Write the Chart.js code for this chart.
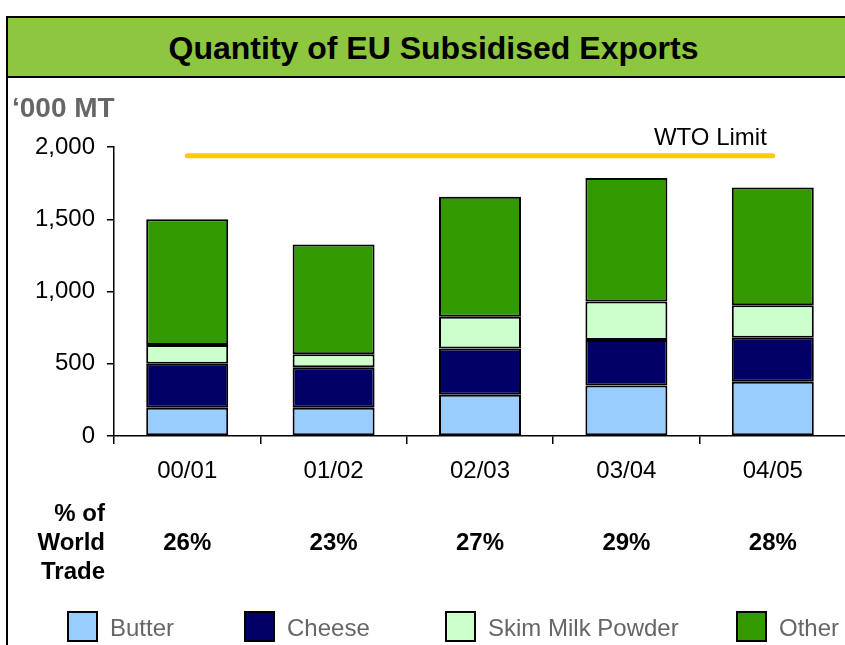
<!DOCTYPE html>
<html>
<head>
<meta charset="utf-8">
<script src="https://cdn.jsdelivr.net/npm/chart.js@4.4.1/dist/chart.umd.min.js"></script>
<style>
  body { margin: 0; width: 845px; height: 645px; overflow: hidden; position: relative; background: #fff;
         font-family: "Liberation Sans", Arial, sans-serif; }
  #chart { position: absolute; left: 0; top: 0; }
  .band { position: absolute; left: 6px; top: 16px; width: 839px; height: 62px; box-sizing: border-box;
          background: #8DC63F; border-top: 2px solid #000; border-bottom: 2px solid #000; border-left: 2px solid #000;
          display: flex; align-items: center; justify-content: center; padding-left: 14px; padding-top: 2px;
          font-weight: bold; font-size: 32px; color: #000; }
  .leftline { position: absolute; left: 6px; top: 78px; width: 2px; height: 567px; background: #000; }
  .unit { position: absolute; left: 12px; top: 94px; font-size: 28px; line-height: 28px; font-weight: bold; color: #666; }
  .share { position: absolute; right: 740px; top: 498px; font-size: 24px; line-height: 29px; font-weight: bold;
           color: #000; text-align: right; }
  .legend-item { position: absolute; top: 610px; height: 32px; display: flex; align-items: center; }
  .legend-item span.box { width: 31px; height: 31px; box-sizing: border-box; border: 2px solid #000; margin-right: 12px; }
  .legend-item span.txt { font-size: 24px; color: #666; padding-top: 3px; }
</style>
</head>
<body>
<canvas id="chart" width="850" height="645"></canvas>
<div class="band">Quantity of EU Subsidised Exports</div>
<div class="leftline"></div>
<div class="unit">‘000 MT</div>
<div class="share">% of<br>World<br>Trade</div>
<div id="legend"></div>
<script>
// years and stacked values ('000 MT)
var periods = ["00/01", "01/02", "02/03", "03/04", "04/05"];
var butter = [195, 195, 285, 350, 375];
var cheese = [305, 280, 320, 315, 305];
var skimMilk = [130, 90, 220, 265, 225];
var other = [870, 760, 830, 855, 815];
var wtoLimit = [1940, 1940, 1940, 1940, 1940];
var worldShare = ["26%", "23%", "27%", "29%", "28%"];
var yTicks = [0, 500, 1000, 1500, 2000];

var seriesNames = ["Butter", "Cheese", "Skim Milk Powder", "Other"];
var seriesColors = ["#99CCFF", "#000066", "#CCFFCC", "#339900"];
var legendLeft = [67, 244, 445, 736];

var FONT = "'Liberation Sans', Arial, sans-serif";

function barSet(label, values, color) {
    return {
        label: label,
        data: values,
        backgroundColor: color,
        borderColor: "#000",
        borderWidth: 2,
        borderSkipped: false,
        barPercentage: 0.56,
        categoryPercentage: 1.0,
        stack: "exports"
    };
}

// draws the WTO label and the % of world trade row
var extraText = {
    id: "extraText",
    afterDraw: function (chart) {
        var ctx = chart.ctx;
        var xs = chart.scales.x, ys = chart.scales.y;
        ctx.save();
        ctx.fillStyle = "#000";
        ctx.font = "24px " + FONT;
        ctx.textAlign = "right";
        ctx.textBaseline = "middle";
        ctx.fillText("WTO Limit", xs.getPixelForValue(periods.length - 1) - 6, ys.getPixelForValue(wtoLimit[wtoLimit.length - 1]) - 17);

        ctx.font = "bold 24px " + FONT;
        ctx.textAlign = "center";
        for (var i = 0; i < worldShare.length; i++) {
            ctx.fillText(worldShare[i], xs.getPixelForValue(i), 543);
        }
        ctx.restore();
    }
};

var chart = new Chart(document.getElementById("chart"), {
    type: "bar",
    data: {
        labels: periods,
        datasets: [
            barSet(seriesNames[0], butter, seriesColors[0]),
            barSet(seriesNames[1], cheese, seriesColors[1]),
            barSet(seriesNames[2], skimMilk, seriesColors[2]),
            barSet(seriesNames[3], other, seriesColors[3]),
            {
                type: "line",
                label: "WTO Limit",
                data: wtoLimit,
                borderColor: "#FFCC00",
                borderWidth: 5,
                borderCapStyle: "round",
                pointRadius: 0,
                fill: false,
                stack: "wto"
            }
        ]
    },
    options: {
        responsive: false,
        animation: false,
        locale: "en-US",
        layout: { padding: { top: 147, left: 0, right: 4, bottom: 0 } },
        plugins: { legend: { display: false }, tooltip: { enabled: false } },
        scales: {
            x: {
                stacked: true,
                grid: { display: true, drawOnChartArea: false, drawTicks: true, tickLength: 8, color: "#000", lineWidth: 1.5, offset: true },
                border: { display: true, color: "#000", width: 1.5 },
                ticks: { color: "#000", font: { size: 24, family: FONT }, padding: 13, maxRotation: 0 },
                afterFit: function (s) { s.height = 209; }
            },
            y: {
                stacked: true,
                min: 0,
                max: 2000,
                afterBuildTicks: function (s) { s.ticks = yTicks.map(function (v) { return { value: v }; }); },
                grid: { display: true, drawOnChartArea: false, drawTicks: true, tickLength: 7, color: "#000", lineWidth: 1.5 },
                border: { display: true, color: "#000", width: 1.5 },
                ticks: {
                    color: "#000",
                    font: { size: 24, family: FONT },
                    padding: 12,
                    callback: function (v) { return v.toLocaleString("en-US"); }
                },
                afterFit: function (s) { s.width = 114; }
            }
        }
    },
    plugins: [extraText]
});

// legend boxes along the bottom
var legendHtml = "";
for (var i = 0; i < seriesNames.length; i++) {
    legendHtml += '<div class="legend-item" style="left:' + legendLeft[i] + 'px"><span class="box" style="background:' +
        seriesColors[i] + '"></span><span class="txt">' + seriesNames[i] + '</span></div>';
}
document.getElementById("legend").innerHTML = legendHtml;
</script>
</body>
</html>
